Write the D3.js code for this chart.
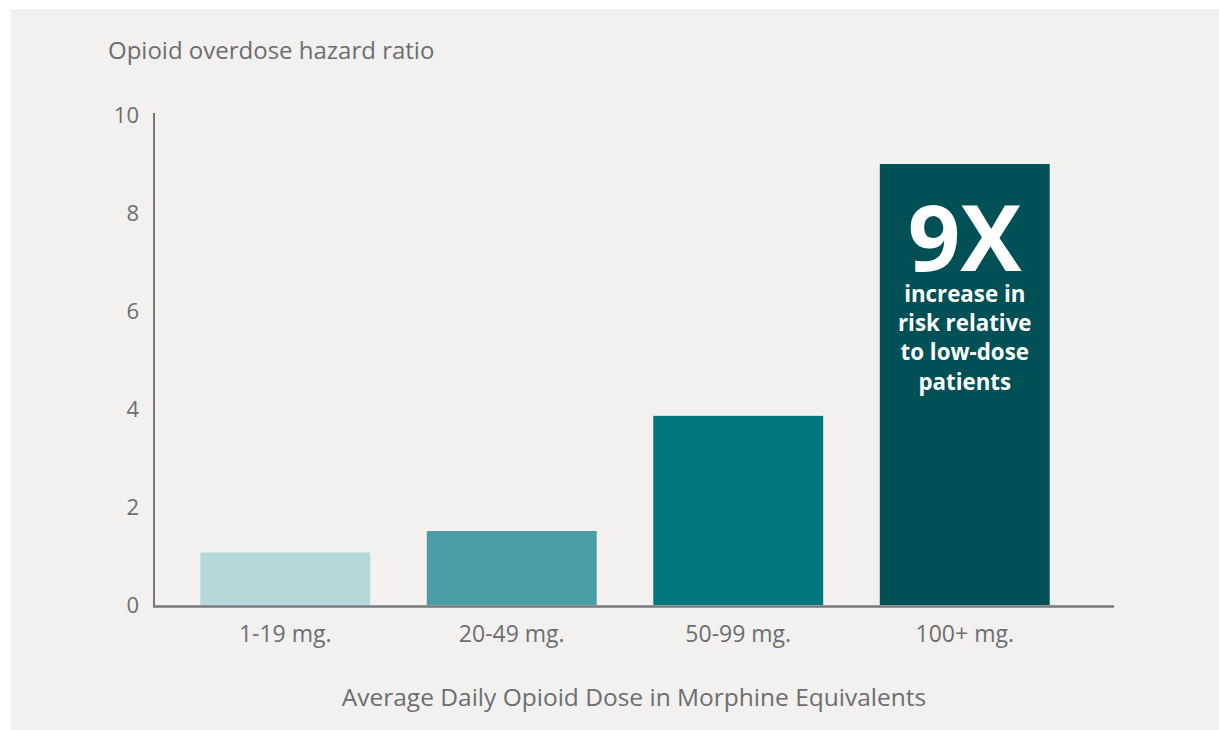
<html>
<head>
    <meta charset="utf-8">
    <style>
        body { margin: 0; background: #fff; }
        text { font-family: "Open Sans", "Noto Sans", sans-serif; fill: #6d6e71; }
    </style>
    <script src="https://cdn.jsdelivr.net/npm/d3@7"></script>
</head>
<body>
<script>
    // data
    var categories = ["1-19 mg.", "20-49 mg.", "50-99 mg.", "100+ mg."];
    var hazardRatios = [1.07, 1.51, 3.86, 9.0];
    var barColors = ["#b5d9db", "#4a9fa6", "#00777d", "#005056"];
    var yTicks = [0, 2, 4, 6, 8, 10];
    var calloutBig = "9X";
    var calloutLines = ["increase in", "risk relative", "to low-dose", "patients"];

    var W = 1219, H = 730;

    var svg = d3.select("body").append("svg")
        .attr("width", W)
        .attr("height", H);

    // grey panel
    svg.append("rect")
        .attr("x", 11).attr("y", 9)
        .attr("width", W - 11).attr("height", H - 9)
        .attr("fill", "#f2f1ef");

    var x = d3.scaleBand()
        .domain(categories)
        .range([172, 1078])
        .paddingInner(0.25)
        .paddingOuter(0.125);

    var y = d3.scaleLinear()
        .domain([0, 10])
        .range([605, 115]);

    // bars
    svg.append("g")
        .selectAll("rect")
        .data(hazardRatios)
        .enter()
        .append("rect")
        .attr("x", function (d, i) { return x(categories[i]); })
        .attr("y", function (d) { return y(d); })
        .attr("width", x.bandwidth())
        .attr("height", function (d) { return y(0) - y(d); })
        .attr("fill", function (d, i) { return barColors[i]; });

    // axes lines
    svg.append("line")
        .attr("x1", 154).attr("x2", 154)
        .attr("y1", 113).attr("y2", 607)
        .attr("stroke", "#77787b").attr("stroke-width", 2);
    svg.append("line")
        .attr("x1", 153).attr("x2", 1114)
        .attr("y1", 606.5).attr("y2", 606.5)
        .attr("stroke", "#77787b").attr("stroke-width", 2.5);

    // y tick labels
    svg.append("g")
        .selectAll("text")
        .data(yTicks)
        .enter()
        .append("text")
        .attr("x", 139)
        .attr("y", function (d) { return y(d); })
        .attr("dy", "0.36em")
        .attr("text-anchor", "end")
        .attr("font-size", "22px")
        .text(function (d) { return d; });

    // x tick labels
    svg.append("g")
        .selectAll("text")
        .data(categories)
        .enter()
        .append("text")
        .attr("x", function (d) { return x(d) + x.bandwidth() / 2; })
        .attr("y", 642)
        .attr("text-anchor", "middle")
        .attr("font-size", "23px")
        .text(function (d) { return d; });

    // titles
    svg.append("text")
        .attr("x", 108).attr("y", 59)
        .attr("font-size", "24px")
        .text("Opioid overdose hazard ratio");

    svg.append("text")
        .attr("x", 634).attr("y", 706)
        .attr("text-anchor", "middle")
        .attr("font-size", "24.5px")
        .text("Average Daily Opioid Dose in Morphine Equivalents");

    // callout inside the last bar
    var cx = x(categories[3]) + x.bandwidth() / 2;
    svg.append("text")
        .attr("x", cx).attr("y", 271)
        .attr("text-anchor", "middle")
        .attr("font-size", "92px")
        .attr("font-weight", "bold")
        .style("fill", "#fff")
        .text(calloutBig);

    svg.append("g")
        .selectAll("text")
        .data(calloutLines)
        .enter()
        .append("text")
        .attr("x", cx)
        .attr("y", function (d, i) { return 302 + i * 29.2; })
        .attr("text-anchor", "middle")
        .attr("font-size", "22.3px")
        .attr("font-weight", "bold")
        .style("fill", "#fff")
        .text(function (d) { return d; });
</script>
</body>
</html>
